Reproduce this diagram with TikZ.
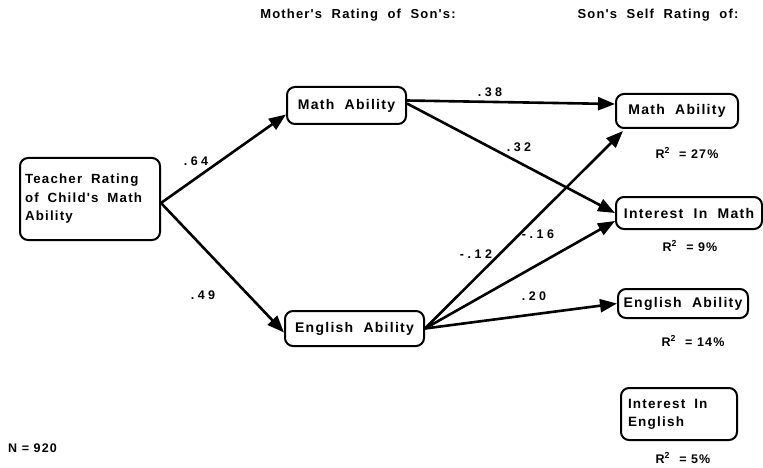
\documentclass[tikz,border=0pt]{standalone}
\usepackage{fontspec}
\usetikzlibrary{arrows.meta}
\newfontfamily\boxfont{Liberation Sans}[LetterSpace=9]
\newfontfamily\numfont{Liberation Sans}[LetterSpace=28]
\begin{document}
\begin{tikzpicture}[x=1pt,y=-1pt,
  pathbox/.style={draw,line width=2pt,rounded corners=8pt,inner sep=0pt,
    font=\boxfont\bfseries\fontsize{14}{17}\selectfont},
  coef/.style={font=\numfont\bfseries\fontsize{12.5}{14}\selectfont,inner sep=0pt},
  rsq/.style={font=\boxfont\bfseries\fontsize{12.5}{14}\selectfont,inner sep=0pt},
  head/.style={font=\boxfont\bfseries\fontsize{13}{15}\selectfont,inner sep=0pt},
  path/.style={line width=2.6pt,-{Triangle[length=17pt,width=13pt]}}]
\useasboundingbox (0,0) rectangle (763,468);

% column headings
\node[head] (hmother) at (358,15) {Mother's\ \ Rating\ \ of\ \ Son's:};
\node[head] (hson) at (658,15) {Son's\ \ Self\ \ Rating\ \ of:};

% predictor
\node[pathbox,minimum width=140pt,minimum height=82pt,text width=130pt,align=left,
  font=\boxfont\bfseries\fontsize{13.3}{18.5}\selectfont] (teacher) at (90,199)
  {Teacher\ \ Rating\\of\ \ Child's\ \ Math\\Ability};

% mother's ratings
\node[pathbox,minimum width=119pt,minimum height=37pt] (mmath) at (346.5,105.5) {Math\ \ Ability};
\node[pathbox,minimum width=139pt,minimum height=35pt] (meng) at (354.5,328.5) {English\ \ Ability};

% son's self ratings
\node[pathbox,minimum width=122pt,minimum height=34pt] (smath) at (677,111) {Math\ \ Ability};
\node[pathbox,minimum width=146pt,minimum height=32pt] (sint) at (689,213) {Interest\ \ In\ \ Math};
\node[pathbox,minimum width=130pt,minimum height=29pt] (seng) at (683,303.5) {English\ \ Ability};
\node[pathbox,minimum width=116pt,minimum height=52pt,text width=102pt,align=left,
  font=\boxfont\bfseries\fontsize{13.5}{18}\selectfont] (sinte) at (679,414)
  {Interest\ \ In\\English};

% explained variance
\node[rsq] (r1) at (687,153) {R\textsuperscript{2}\ \ =\ 27\%};
\node[rsq] (r2) at (690,246) {R\textsuperscript{2}\ \ =\ 9\%};
\node[rsq] (r3) at (693,341) {R\textsuperscript{2}\ \ =\ 14\%};
\node[rsq] (r4) at (683,458) {R\textsuperscript{2}\ \ =\ 5\%};

\node[rsq,anchor=west] (n) at (8,448) {N\ =\ 920};

% paths
\draw[path] ([yshift=-4pt]teacher.east) -- ([yshift=-9pt]mmath.west);
\draw[path] ([yshift=-4pt]teacher.east) -- ([yshift=-4pt]meng.west);
\draw[path] ([yshift=5pt]mmath.east) -- ([yshift=7pt]smath.west);
\draw[path] ([yshift=2pt]mmath.east) -- (sint.west);
\draw[path] (meng.east) -- ([xshift=8pt,yshift=-2pt]smath.south west);
\draw[path] (meng.east) -- ([yshift=-8pt]sint.west);
\draw[path] (meng.east) -- (seng.west);

% path coefficients
\node[coef] (c1) at (196,161) {.64};
\node[coef] (c2) at (203,295) {.49};
\node[coef] (c3) at (490,92) {.38};
\node[coef] (c4) at (519,147) {.32};
\node[coef] (c5) at (476,254) {-.12};
\node[coef] (c6) at (538,234) {-.16};
\node[coef] (c7) at (534,296) {.20};
\end{tikzpicture}
\end{document}
